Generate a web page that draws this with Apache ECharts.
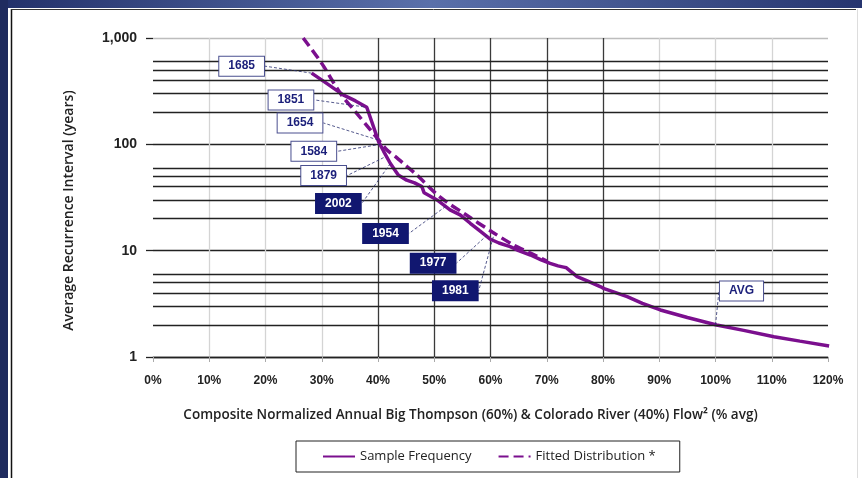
<!DOCTYPE html>
<html>
<head>
<meta charset="utf-8">
<script src="https://cdn.jsdelivr.net/npm/echarts@6/dist/echarts.min.js"></script>
<style>html,body{margin:0;padding:0;background:#fff;}#c{width:862px;height:478px;}</style>
</head>
<body>
<div id="c"></div>
<script>
// ---- data ----
const sampleX = [28.2, 31, 33.8, 36, 38, 39, 40.1, 41, 42.2, 43.6, 45.1, 46.5, 47.8, 48.2, 50.5, 52.8, 54.6, 56.4, 58, 60, 61.5, 63.5, 65, 67.1, 69, 70.6, 72, 73, 73.5, 75.4, 77.2, 79.5, 80.2, 84.3, 87, 90.2, 95, 100.2, 105, 110.4, 115, 120.2];
const sampleY = [467, 370, 292, 256, 223, 157, 106, 86, 66, 51.5, 46, 43.4, 40, 35, 30, 24.2, 21.7, 18.1, 15.5, 12.8, 11.8, 10.9, 10, 9.1, 8.2, 7.6, 7.2, 7.0, 6.9, 5.7, 5.2, 4.6, 4.4, 3.7, 3.2, 2.77, 2.35, 2.0, 1.78, 1.55, 1.41, 1.27];
const fitX = [26.7, 30, 33.3, 36, 38.5, 41.6, 43.1, 45, 46.9, 51, 55.5, 60.3, 64.1, 67.1, 70];
const fitY = [1000, 577, 302, 202, 140, 88.5, 76.6, 62.8, 51.5, 32, 22, 15, 11.3, 9.5, 8.0];
const annotLabels = ['1685', '1851', '1654', '1584', '1879', '2002', '1954', '1977', '1981', 'AVG'];
const annotX = [28.2, 37.5, 40, 40.5, 41, 42.2, 52, 59.4, 60.5, 100];
const annotY = [467, 225, 110, 100, 75, 66, 26, 14, 13.5, 2.0];
const annotFilled = [false, false, false, false, false, true, true, true, true, false];
const xTicks = [0, 10, 20, 30, 40, 50, 60, 70, 80, 90, 100, 110, 120];
const yMinorLines = [2, 3, 4, 5, 6, 20, 30, 40, 50, 60, 200, 300, 400, 500, 600];
const seriesNames = ['Sample Frequency', 'Fitted Distribution *'];

// ---- layout (label offsets in px, not data) ----
const labelOffsets = [[-70, -7], [-73, -7], [-78, -17], [-67, 7], [-60, 18], [-52, 40], [-60, 27], [-54, 28], [-38, 54], [26, -34]];

const purple = '#7b0f8e';
const navy = '#1b1f7a';
const FONT = 'Liberation Sans';
const FONT2 = 'Open Sans';

const chart = echarts.init(document.getElementById('c'), null, {renderer: 'canvas'});

const xSplitColors = xTicks.map(v => (v === 0 || v === 120) ? 'rgba(0,0,0,0)' : (v >= 40 && v <= 80 ? '#3a3a3a' : '#d4d4d4'));

const annotData = annotX.map((x, i) => {
  const filled = annotFilled[i];
  return {
    value: [x, annotY[i]],
    label: {
      show: true,
      formatter: annotLabels[i],
      color: filled ? '#fff' : navy,
      backgroundColor: filled ? '#111770' : '#fff',
      borderColor: filled ? '#111770' : '#4a4f8f',
      borderWidth: 1,
      padding: [4, 9, 3, 9],
      fontFamily: FONT,
      fontSize: 12,
      fontWeight: 'bold'
    }
  };
});

chart.setOption({
  animation: false,
  backgroundColor: '#fff',
  graphic: [
    {type: 'rect', shape: {x: 0, y: 0, width: 862, height: 8}, style: {fill: new echarts.graphic.LinearGradient(0, 0, 1, 0, [{offset: 0, color: '#22306a'}, {offset: 0.5, color: '#5a70aa'}, {offset: 1, color: '#26356f'}])}, z: 100},
    {type: 'rect', shape: {x: 0, y: 0, width: 8, height: 478}, style: {fill: '#1f2b5f'}, z: 100},
    {type: 'line', shape: {x1: 11.5, y1: 9, x2: 11.5, y2: 478}, style: {stroke: '#111', lineWidth: 1.5}, z: 100},
    {type: 'line', shape: {x1: 11, y1: 9.5, x2: 856, y2: 9.5}, style: {stroke: '#333', lineWidth: 1}, z: 100},
    {type: 'line', shape: {x1: 857.5, y1: 9, x2: 857.5, y2: 478}, style: {stroke: '#ddd', lineWidth: 1}, z: 100}
  ],
  grid: {left: 153, right: 34, top: 38, bottom: 121, containLabel: false},
  xAxis: {
    type: 'value', min: 0, max: 120, interval: 10,
    name: 'Composite Normalized Annual Big Thompson (60%) & Colorado River (40%) Flow² (% avg)',
    nameLocation: 'middle', nameGap: 51,
    nameTextStyle: {fontFamily: FONT2, fontSize: 13.5, fontWeight: 600, color: '#222', padding: [0, 40, 0, 0]},
    axisLine: {show: true, lineStyle: {color: '#222', width: 1.3}},
    axisTick: {show: true, length: 5, lineStyle: {color: '#aaa'}},
    axisLabel: {formatter: '{value}%', fontFamily: FONT, fontSize: 12, fontWeight: 'bold', color: '#222', margin: 18},
    splitLine: {show: true, lineStyle: {color: xSplitColors, width: 1.3}}
  },
  yAxis: {
    type: 'log', logBase: 10, min: 1, max: 1000,
    name: 'Average Recurrence Interval (years)',
    nameLocation: 'middle', nameGap: 77, nameRotate: 90,
    nameTextStyle: {fontFamily: FONT2, fontSize: 14, fontWeight: 600, color: '#222', padding: [0, 26, 0, 0]},
    axisLine: {show: false},
    axisTick: {show: true, length: 7, lineStyle: {color: '#222', width: 1.3}},
    axisLabel: {
      fontFamily: FONT, fontSize: 14, fontWeight: 'bold', color: '#222', margin: 16,
      formatter: v => Number(v).toLocaleString('en-US')
    },
    splitLine: {show: true, lineStyle: {color: ['#222', '#222', '#222', '#bdbdbd'], width: 1.3}}
  },
  legend: {
    data: seriesNames,
    left: 296, top: 441,
    padding: [9, 24, 9, 26],
    itemGap: 26, itemWidth: 32, itemHeight: 12,
    borderColor: '#222', borderWidth: 1,
    itemStyle: {opacity: 0, borderWidth: 0},
    textStyle: {fontFamily: FONT2, fontSize: 13, color: '#222'}
  },
  series: [
    {
      name: 'grid-minor', type: 'line', data: [], z: 1, silent: true,
      markLine: {
        silent: true, symbol: 'none', label: {show: false},
        lineStyle: {color: '#222', width: 1.3, type: 'solid'},
        data: yMinorLines.map(v => ({yAxis: v}))
      }
    },
    {
      name: seriesNames[1], type: 'line', z: 3,
      data: fitX.map((x, i) => [x, fitY[i]]),
      showSymbol: false, symbol: 'none', smooth: 0.3,
      lineStyle: {color: purple, width: 3.5, type: [10, 5]},
      itemStyle: {color: purple}
    },
    {
      name: seriesNames[0], type: 'line', z: 4,
      data: sampleX.map((x, i) => [x, sampleY[i]]),
      showSymbol: false, symbol: 'none',
      lineStyle: {color: purple, width: 3.5},
      itemStyle: {color: purple}
    },
    {
      name: 'annotations', type: 'scatter', z: 6,
      symbolSize: 0.1,
      itemStyle: {color: 'rgba(0,0,0,0)', opacity: 1},
      data: annotData,
      labelLine: {show: true, lineStyle: {color: '#2a3070', width: 0.8, type: [3, 2]}},
      labelLayout: p => ({dx: labelOffsets[p.dataIndex][0], dy: labelOffsets[p.dataIndex][1]})
    }
  ]
});
</script>
</body>
</html>
